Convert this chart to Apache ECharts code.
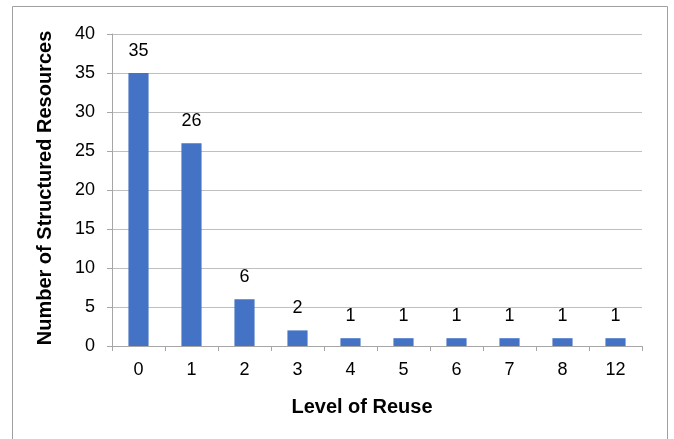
<!DOCTYPE html>
<html>
<head>
<meta charset="utf-8">
<script src="https://cdn.jsdelivr.net/npm/echarts@6/dist/echarts.min.js"></script>
<style>
html,body{margin:0;padding:0;background:#fff;}
#chart{width:674px;height:439px;}
</style>
</head>
<body>
<div id="chart"></div>
<script>
var categories = ['0','1','2','3','4','5','6','7','8','12'];
var values = [35, 26, 6, 2, 1, 1, 1, 1, 1, 1];
var yTicks = [0, 5, 10, 15, 20, 25, 30, 35, 40];
var xTitle = 'Level of Reuse';
var yTitle = 'Number of Structured Resources';

var chart = echarts.init(document.getElementById('chart'), null, {renderer: 'canvas'});
var font = 'Liberation Sans, Arial, sans-serif';
chart.setOption({
  animation: false,
  backgroundColor: '#ffffff',
  graphic: [
    {type: 'rect', shape: {x: 12.5, y: 6.5, width: 655, height: 460},
     style: {fill: 'none', stroke: '#a0a0a0', lineWidth: 1}, z: -1},
    {type: 'text', position: [362, 407],
     style: {text: xTitle, font: 'bold 20px ' + font, fill: '#000', textAlign: 'center', textVerticalAlign: 'middle'}},
    {type: 'text', rotation: Math.PI / 2, position: [45, 188],
     style: {text: yTitle, font: 'bold 20px ' + font, fill: '#000', textAlign: 'center', textVerticalAlign: 'middle'}}
  ],
  grid: {left: 112, right: 32, top: 34, bottom: 93, containLabel: false},
  xAxis: {
    type: 'category',
    data: categories,
    axisLine: {show: true, lineStyle: {color: '#a6a6a6', width: 1}},
    axisTick: {show: true, length: 5, inside: false, alignWithLabel: false, lineStyle: {color: '#a6a6a6'}},
    axisLabel: {color: '#000', fontSize: 18, fontFamily: font, margin: 15}
  },
  yAxis: {
    type: 'value',
    min: yTicks[0],
    max: yTicks[yTicks.length - 1],
    interval: 5,
    axisLine: {show: true, lineStyle: {color: '#a6a6a6', width: 1}},
    axisTick: {show: true, length: 5, lineStyle: {color: '#a6a6a6'}},
    axisLabel: {color: '#000', fontSize: 18, fontFamily: font, margin: 17},
    splitLine: {show: true, lineStyle: {color: '#bfbfbf', width: 1}}
  },
  series: [{
    type: 'bar',
    data: values,
    barWidth: '38%',
    itemStyle: {color: '#4472C4'},
    label: {show: true, position: 'top', distance: 13, color: '#000', fontSize: 18, fontFamily: font}
  }]
});
</script>
</body>
</html>
